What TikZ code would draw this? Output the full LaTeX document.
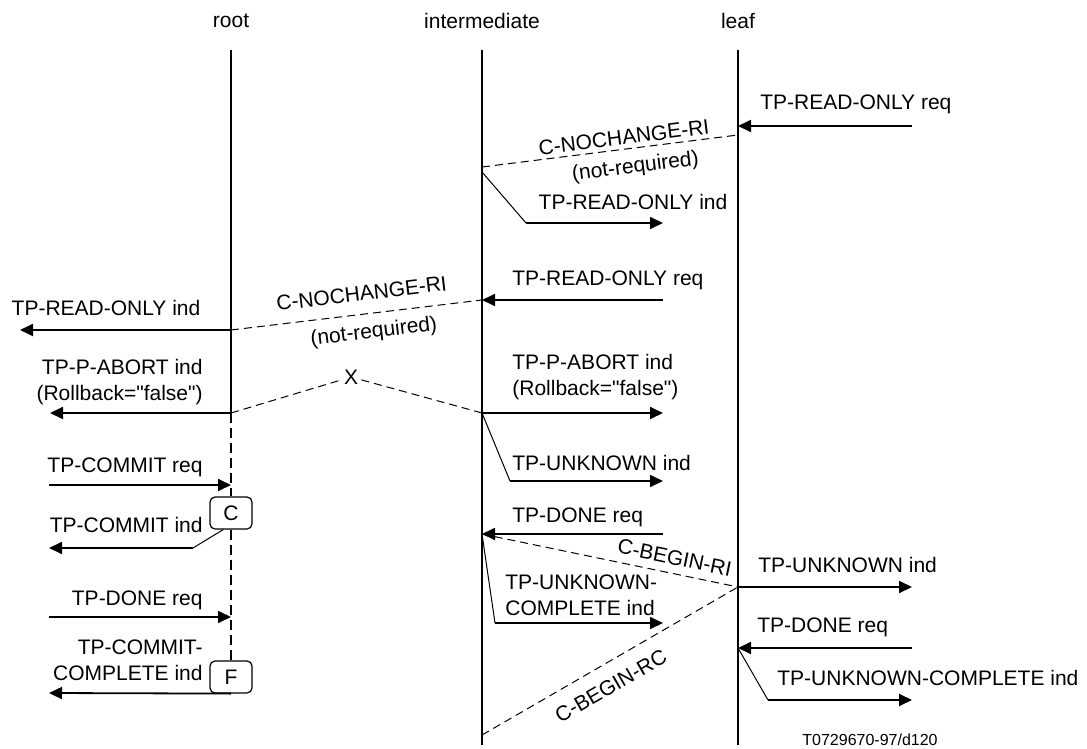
\documentclass[tikz,border=0pt]{standalone}
\usepackage{fontspec}
\setmainfont{Liberation Sans}[Ligatures=TeXOff]
\usetikzlibrary{arrows.meta}

\begin{document}
\begin{tikzpicture}[x=0.5pt, y=-0.5pt, >={Triangle[length=6.5pt, width=6pt]},
  txt/.style={font=\fontsize{10.5}{13}\selectfont, inner sep=0pt},
  life/.style={line width=1pt},
  lifedash/.style={life, dash pattern=on 5pt off 2.5pt},
  msg/.style={->, line width=0.9pt},
  kink/.style={line width=0.5pt},
  ctrl/.style={line width=0.5pt, dash pattern=on 4pt off 2.5pt},
  state/.style={draw, rounded corners=2.5pt, line width=0.6pt, minimum width=21pt, minimum height=16pt, inner sep=0pt, fill=white, font=\fontsize{10.5}{13}\selectfont}
]
\useasboundingbox (0,0) rectangle (1087,749);

\node[txt] (root) at (231,21) {root};
\node[txt] (inter) at (482,21) {intermediate};
\node[txt] (leaf) at (738,21) {leaf};

\coordinate (r0) at (231,50);
\coordinate (r1) at (231,330);
\coordinate (r2) at (231,413);
\coordinate (r3) at (231,485);
\coordinate (r4) at (231,617);
\node[state] (c) at (231,513) {C};
\node[state] (f) at (231,677) {F};

\coordinate (i0) at (482,50);
\coordinate (i1) at (482,167);
\coordinate (i2) at (482,172);
\coordinate (i3) at (482,300);
\coordinate (i4) at (482,413);
\coordinate (i5) at (482,534);
\coordinate (i6) at (482,735);
\coordinate (i7) at (482,745);

\coordinate (l0) at (738,50);
\coordinate (l1) at (738,126);
\coordinate (l2) at (738,135);
\coordinate (l3) at (738,587);
\coordinate (l4) at (738,648);
\coordinate (l5) at (738,745);

\draw[life] (r0) -- (r2);
\draw[lifedash] (r2) -- (c.north) (c.south) -- (f.north);
\draw[life] (i0) -- (i7);
\draw[life] (l0) -- (l5);

% leaf read-only
\coordinate (a1) at (912,126);
\draw[msg] (a1) -- (l1);
\node[txt, anchor=west] (t1) at (760,104) {TP-READ-ONLY req};
\draw[ctrl] (i1) -- node[txt, sloped, above=2pt, pos=0.56] (t2) {C-NOCHANGE-RI}
  node[txt, sloped, below=4.5pt, pos=0.59] (t3) {(not-required)} (l2);
\coordinate (k1) at (526,223);
\coordinate (a3) at (663,223);
\draw[kink] (i2) -- (k1);
\draw[msg] (k1) -- (a3);
\node[txt] (t4) at (633,202) {TP-READ-ONLY ind};

% intermediate read-only
\coordinate (a4) at (663,300);
\draw[msg] (a4) -- (i3);
\node[txt, anchor=west] (t5) at (512,280) {TP-READ-ONLY req};
\draw[ctrl] (r1) -- node[txt, sloped, above=6.5pt, pos=0.53] (t6) {C-NOCHANGE-RI}
  node[txt, sloped, below=4.5pt, pos=0.56] (t7) {(not-required)} (i3);
\coordinate (a6) at (20,330);
\draw[msg] (r1) -- (a6);
\node[txt] (t8) at (106,308) {TP-READ-ONLY ind};

% abort
\node[txt, inner sep=1.5pt] (x) at (351,377) {X};
\draw[ctrl] (r2) -- (x) -- (i4);
\coordinate (a7) at (50,413);
\draw[msg] (r2) -- (a7);
\node[txt, anchor=east, align=right] (t9) at (203,382) {TP-P-ABORT ind\\(Rollback="false")};
\coordinate (a8) at (663,413);
\draw[msg] (i4) -- (a8);
\node[txt, anchor=west, align=left] (t10) at (512,377) {TP-P-ABORT ind\\(Rollback="false")};
\coordinate (k2) at (510,481);
\coordinate (a9) at (663,481);
\draw[kink] (i4) -- (k2);
\draw[msg] (k2) -- (a9);
\node[txt, anchor=west] (t11) at (512,463) {TP-UNKNOWN ind};

% done / begin
\coordinate (a10) at (663,534);
\draw[msg] (a10) -- (i5);
\node[txt, anchor=west] (t12) at (512,517) {TP-DONE req};
\draw[ctrl] (i5) -- node[txt, sloped, above=4pt, pos=0.74] (t13) {C-BEGIN-RI} (l3);
\coordinate (k3) at (495,623);
\coordinate (a11) at (663,623);
\draw[kink] (i5) -- (k3);
\draw[msg] (k3) -- (a11);
\node[txt, anchor=west, align=left] (t14) at (505,595) {TP-UNKNOWN-\\COMPLETE ind};
\draw[ctrl] (i6) -- node[txt, sloped, below=7pt, pos=0.46] (t15) {C-BEGIN-RC} (l3);
\coordinate (a12) at (912,587);
\draw[msg] (l3) -- (a12);
\node[txt, anchor=west] (t16) at (758,565) {TP-UNKNOWN ind};
\coordinate (a13) at (912,648);
\draw[msg] (a13) -- (l4);
\node[txt, anchor=west] (t17) at (757,627) {TP-DONE req};
\coordinate (k4) at (768,700);
\coordinate (a14) at (912,700);
\draw[kink] (l4) -- (k4);
\draw[msg] (k4) -- (a14);
\node[txt, anchor=west] (t18) at (777,678) {TP-UNKNOWN-COMPLETE ind};

% root commit
\coordinate (a15) at (49,485);
\draw[msg] (a15) -- (r3);
\node[txt, anchor=east] (t19) at (203,467) {TP-COMMIT req};
\coordinate (k5) at (193,548);
\coordinate (a16) at (49,548);
\draw[kink] (c.-115) -- (k5);
\draw[msg] (k5) -- (a16);
\node[txt, anchor=east] (t20) at (203,525) {TP-COMMIT ind};
\coordinate (a17) at (49,617);
\draw[msg] (a17) -- (r4);
\node[txt, anchor=east] (t21) at (203,600) {TP-DONE req};
\coordinate (a18) at (49,693);
\draw[msg] (f.south) -- (a18);
\node[txt, anchor=east, align=right] (t22) at (203,660) {TP-COMMIT-\\COMPLETE ind};

\node[font=\fontsize{8}{10}\selectfont, inner sep=0pt] (ref) at (870,740) {T0729670-97/d120};
\end{tikzpicture}
\end{document}
